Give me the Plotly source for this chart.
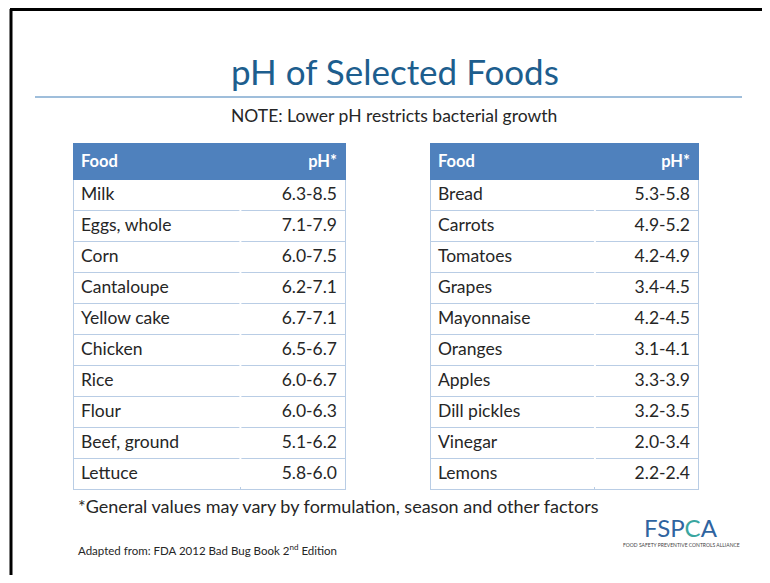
import plotly.graph_objects as go

# table data
left_foods = ['Milk', 'Eggs, whole', 'Corn', 'Cantaloupe', 'Yellow cake',
              'Chicken', 'Rice', 'Flour', 'Beef, ground', 'Lettuce']
left_ph = ['6.3-8.5', '7.1-7.9', '6.0-7.5', '6.2-7.1', '6.7-7.1',
           '6.5-6.7', '6.0-6.7', '6.0-6.3', '5.1-6.2', '5.8-6.0']
right_foods = ['Bread', 'Carrots', 'Tomatoes', 'Grapes', 'Mayonnaise',
               'Oranges', 'Apples', 'Dill pickles', 'Vinegar', 'Lemons']
right_ph = ['5.3-5.8', '4.9-5.2', '4.2-4.9', '3.4-4.5', '4.2-4.5',
            '3.1-4.1', '3.3-3.9', '3.2-3.5', '2.0-3.4', '2.2-2.4']
header_labels = ['Food', 'pH*']

# the page body has an 8px margin, so the figure is shrunk and
# everything below is placed in page pixels minus that offset
OFF = 8
W, H = 770 - OFF, 583 - 2 * OFF
FONT = 'Lato, Open Sans, sans-serif'
HEADER_BLUE = '#4F81BD'
GRID = '#B9CDE5'
TEXT = '#262626'
COLW = [1.6, 1]
HEAD_H, ROW_H = 35, 31


def px_x(v):
    return (v - OFF) / W


def px_y(v):
    return 1 - (v - OFF) / H


def make_table(foods, ph, x0, x1, top):
    bottom = top + HEAD_H + ROW_H * len(foods)
    return go.Table(
        domain=dict(x=[px_x(x0), px_x(x1)], y=[px_y(bottom + 4), px_y(top)]),
        columnwidth=COLW,
        header=dict(
            values=['<b>%s</b>' % h for h in header_labels],
            fill_color=HEADER_BLUE,
            line=dict(color=HEADER_BLUE, width=1),
            align=['left', 'right'],
            font=dict(family=FONT, size=16.5, color='white'),
            height=HEAD_H,
        ),
        cells=dict(
            values=[foods, ph],
            fill_color='white',
            line=dict(color=GRID, width=1),
            align=['left', 'right'],
            font=dict(family=FONT, size=17.5, color=TEXT),
            height=ROW_H,
        ),
    )


tables = [(left_foods, left_ph, 73, 345), (right_foods, right_ph, 430, 698)]
TOP = 143

fig = go.Figure()
shapes = []
for foods, ph, x0, x1 in tables:
    fig.add_trace(make_table(foods, ph, x0, x1, TOP))
    # hide the divider between the two columns
    xd = x0 + (x1 - x0) * COLW[0] / sum(COLW)
    shapes.append(dict(type='line', x0=px_x(xd), x1=px_x(xd),
                       y0=px_y(TOP + HEAD_H + 2),
                       y1=px_y(TOP + HEAD_H + ROW_H * len(foods) - 1),
                       line=dict(color='white', width=2), layer='above'))

# slide frame (left + top edge)
shapes.append(dict(type='line', x0=px_x(11), x1=px_x(11), y0=px_y(9), y1=0,
                   line=dict(color='black', width=3)))
shapes.append(dict(type='line', x0=px_x(10), x1=1, y0=px_y(9.5), y1=px_y(9.5),
                   line=dict(color='black', width=3)))
# rule under the title
shapes.append(dict(type='line', x0=px_x(35), x1=px_x(742), y0=px_y(97), y1=px_y(97),
                   line=dict(color='#7FA8CF', width=1.5)))
for s in shapes:
    s.update(xref='paper', yref='paper')

annotations = [
    dict(text='pH of Selected Foods', x=px_x(395), y=px_y(71),
         font=dict(size=35, color='#1D5E8E', family=FONT),
         xanchor='center', yanchor='middle'),
    dict(text='NOTE: Lower pH restricts bacterial growth', x=px_x(394), y=px_y(115),
         font=dict(size=17.5, color=TEXT, family=FONT),
         xanchor='center', yanchor='middle'),
    dict(text='*General values may vary by formulation, season and other factors',
         x=px_x(76), y=px_y(506),
         font=dict(size=18, color=TEXT, family=FONT),
         xanchor='left', yanchor='middle'),
    dict(text='Adapted from: FDA 2012 Bad Bug Book 2<sup>nd</sup> Edition',
         x=px_x(76), y=px_y(549),
         font=dict(size=11.5, color=TEXT, family=FONT),
         xanchor='left', yanchor='middle'),
    # logo
    dict(text="FSP<span style='color:#3AA6A0'>C</span>A", x=px_x(681), y=px_y(527),
         font=dict(size=24, color='#2F64A0', family=FONT),
         xanchor='center', yanchor='middle'),
    dict(text='FOOD SAFETY PREVENTIVE CONTROLS ALLIANCE', x=px_x(681), y=px_y(545),
         font=dict(size=5, color='#444444', family=FONT),
         xanchor='center', yanchor='middle'),
]
for a in annotations:
    a.update(xref='paper', yref='paper', showarrow=False)

fig.update_layout(
    width=W, height=H,
    margin=dict(l=0, r=0, t=0, b=0),
    paper_bgcolor='white',
    plot_bgcolor='white',
    annotations=annotations,
    shapes=shapes,
    showlegend=False,
)

fig.write_html('out.html')
